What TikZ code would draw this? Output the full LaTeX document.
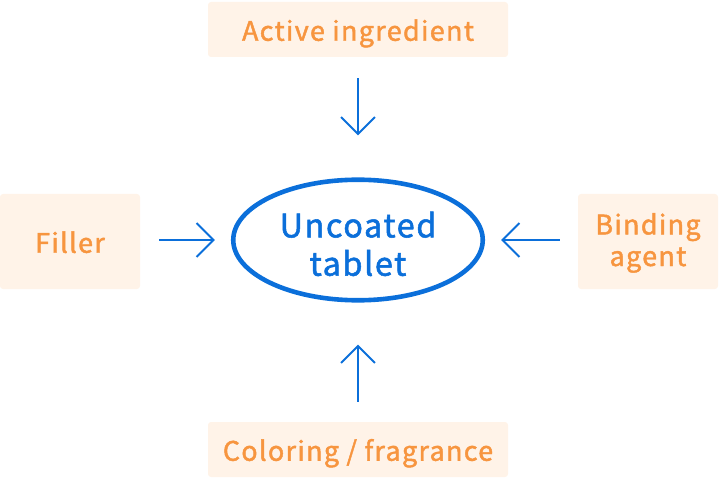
\documentclass[tikz,border=0pt]{standalone}
\usepackage{fontspec}
\usepackage{tikz}
\usetikzlibrary{shapes.geometric}
\usetikzlibrary{arrows.meta}
\setmainfont[LetterSpace=5, FakeBold=1.6]{Noto Sans CJK JP}

\definecolor{boxfill}{HTML}{FFF3E8}
\definecolor{boxtext}{HTML}{F7953F}
\definecolor{tabblue}{HTML}{0B6FDA}

\tikzset{
  ingbox/.style={fill=boxfill, rounded corners=3bp, inner sep=0pt, align=center,
    text=boxtext, font=\fontsize{27}{31.7}\selectfont},
  oneline/.style={text height=23bp, text depth=0.5bp},
  feed/.style={tabblue, line width=2bp, -{Straight Barb[length=17bp,width=34bp,line width=2bp]}}
}

\begin{document}
\begin{tikzpicture}[x=1bp,y=-1bp]
        % Cadre
        \useasboundingbox (0,0) rectangle (720,480);

        % Comprime
        \node[ellipse, draw=tabblue, line width=4.6bp, minimum width=249.5bp, minimum height=119.5bp,
          align=center, text=tabblue, font=\fontsize{32.5}{38.5}\selectfont,
          text height=75bp, text depth=3.6bp] (tablet) at (358,240)
          {Uncoated\\tablet};

        % Ingredients
        \node[ingbox, oneline, minimum width=300bp, minimum height=55bp] (active) at (358,29.5) {Active ingredient};
        \node[ingbox, oneline, minimum width=140bp, minimum height=95bp] (filler) at (70,241.5) {Filler};
        \node[ingbox, text height=60bp, text depth=11bp, minimum width=140bp, minimum height=95bp] (binding) at (648,241.5) {Binding\\agent};
        \node[ingbox, oneline, minimum width=300bp, minimum height=55bp] (coloring) at (358,449.5) {Coloring / fragrance};

        % Fleches
        \draw[feed, shorten <=21bp, shorten >=42bp] (active) -- (tablet);
        \draw[feed, shorten <=19bp, shorten >=16bp] (filler.east |- tablet) -- (tablet);
        \draw[feed, shorten <=18bp, shorten >=16bp] (binding.west |- tablet) -- (tablet);
        \draw[feed, shorten <=20bp, shorten >=42bp] (coloring) -- (tablet);
    \end{tikzpicture}
\end{document}
